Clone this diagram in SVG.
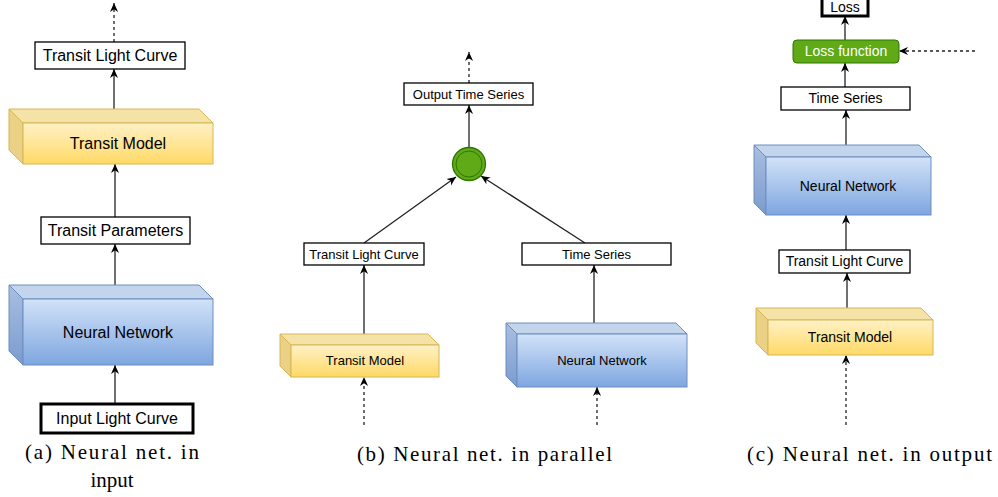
<svg xmlns="http://www.w3.org/2000/svg" width="998" height="497" viewBox="0 0 998 497">
<style>
.box{fill:#fff;stroke:#000;stroke-width:1.3}
.thick{fill:#fff;stroke:#000;stroke-width:3}
.t{font-family:"Liberation Sans",Arial,sans-serif;fill:#000;text-anchor:middle}
.ya{fill:url(#yFront);stroke:#d6b656;stroke-width:1}
.yt{fill:#f4e2a6;stroke:#d6b656;stroke-width:1}
.yl{fill:#ebd185;stroke:#d6b656;stroke-width:1}
.ba{fill:url(#bFront);stroke:#6c8ebf;stroke-width:1}
.bt{fill:#c3d4ed;stroke:#6c8ebf;stroke-width:1}
.bl{fill:url(#bLeft);stroke:#6c8ebf;stroke-width:1}
.c{stroke:#222;stroke-width:1.3;fill:none;marker-end:url(#arr)}
.d{stroke:#222;stroke-width:1.3;fill:none;stroke-dasharray:3,3;marker-end:url(#arr)}
.cap{font-family:"Liberation Serif","Times New Roman",serif;font-size:21px;fill:#000}
</style>
<defs>
<linearGradient id="yFront" x1="0" y1="0" x2="0" y2="1">
<stop offset="0" stop-color="#fff1c6"/><stop offset="1" stop-color="#ffd966"/>
</linearGradient>
<linearGradient id="bFront" x1="0" y1="0" x2="0" y2="1">
<stop offset="0" stop-color="#d2e2f8"/><stop offset="1" stop-color="#7ea6e0"/>
</linearGradient>
<linearGradient id="bLeft" x1="0" y1="0" x2="0" y2="1">
<stop offset="0" stop-color="#a9bfe0"/><stop offset="1" stop-color="#7b9bcf"/>
</linearGradient>
<marker id="arr" viewBox="0 0 10 10" refX="10" refY="5" markerWidth="9" markerHeight="9" markerUnits="userSpaceOnUse" orient="auto">
<path d="M0,0.5 L10,5 L0,9.5 L3,5 z" fill="#000"/>
</marker>
</defs>

<g id="connectors">
<!-- (a) -->
<path class="d" d="M114,42 L114,3"/>
<path class="c" d="M114,116 L114,69"/>
<path class="c" d="M115,217 L115,164"/>
<path class="c" d="M115,292 L115,244"/>
<path class="c" d="M115,403 L115,365"/>
<!-- (b) -->
<path class="d" d="M469,83 L469,52"/>
<path class="c" d="M469,147 L469,105"/>
<path class="c" d="M364,243 L456,177"/>
<path class="c" d="M585,243 L481,176"/>
<path class="c" d="M364,339 L364,265"/>
<path class="c" d="M594,328 L594,265"/>
<path class="d" d="M364,425 L364,377"/>
<path class="d" d="M597,425 L597,387"/>
<!-- (c) -->
<path class="c" d="M845,40 L845,16"/>
<path class="d" d="M975,51 L899,51"/>
<path class="c" d="M845,87 L845,63"/>
<path class="c" d="M846,151 L846,110"/>
<path class="c" d="M846,250 L846,215"/>
<path class="c" d="M847,315 L847,273"/>
<path class="d" d="M846,425 L846,355"/>
</g>

<!-- Panel (a) -->
<g id="a_tlc"><rect class="box" x="35" y="42" width="150" height="27"/><text class="t" x="110" y="61" font-size="16">Transit Light Curve</text></g>
<g id="a_tm">
<polygon class="yt" points="9,109 199,109 213,123 23,123"/>
<polygon class="yl" points="9,109 23,123 23,164 9,150"/>
<rect class="ya" x="23" y="123" width="190" height="41"/>
<text class="t" x="118" y="149" font-size="16">Transit Model</text>
</g>
<g id="a_tp"><rect class="box" x="41" y="217" width="149" height="27"/><text class="t" x="115.5" y="236" font-size="16">Transit Parameters</text></g>
<g id="a_nn">
<polygon class="bt" points="9,285 199,285 213,299 23,299"/>
<polygon class="bl" points="9,285 23,299 23,365 9,351"/>
<rect class="ba" x="23" y="299" width="190" height="66"/>
<text class="t" x="118" y="338" font-size="16">Neural Network</text>
</g>
<g id="a_ilc"><rect class="thick" x="41" y="404" width="152" height="29"/><text class="t" x="117" y="424" font-size="16">Input Light Curve</text></g>

<!-- Panel (b) -->
<g id="b_ots"><rect class="box" x="404" y="83" width="129" height="22"/><text class="t" x="468.5" y="98.5" font-size="13">Output Time Series</text></g>
<g id="b_merge">
<circle cx="469" cy="164" r="16.5" fill="#60a917" stroke="#2d7600" stroke-width="1.3"/>
<circle cx="469" cy="164" r="13" fill="none" stroke="#2d7600" stroke-width="1"/>
</g>
<g id="b_tlc"><rect class="box" x="304" y="243" width="120" height="22"/><text class="t" x="364" y="258.5" font-size="13">Transit Light Curve</text></g>
<g id="b_ts"><rect class="box" x="522" y="243" width="149" height="22"/><text class="t" x="596.5" y="258.5" font-size="13">Time Series</text></g>
<g id="b_tm">
<polygon class="yt" points="280,334 428,334 439,345 291,345"/>
<polygon class="yl" points="280,334 291,345 291,377 280,366"/>
<rect class="ya" x="291" y="345" width="148" height="32"/>
<text class="t" x="365" y="365" font-size="13">Transit Model</text>
</g>
<g id="b_nn">
<polygon class="bt" points="506,323 676,323 687,334 517,334"/>
<polygon class="bl" points="506,323 517,334 517,387 506,376"/>
<rect class="ba" x="517" y="334" width="170" height="53"/>
<text class="t" x="602" y="365" font-size="13">Neural Network</text>
</g>

<!-- Panel (c) -->
<g id="c_loss"><rect class="thick" x="822" y="-12" width="46" height="28" stroke-width="2.5"/><text class="t" x="845" y="11.5" font-size="14">Loss</text></g>
<g id="c_lossfn"><rect x="793" y="40" width="106" height="23" rx="4" fill="#60a917" stroke="#2d7600" stroke-width="1"/><text class="t" x="846" y="56" font-size="14" style="fill:#fff">Loss function</text></g>
<g id="c_ts"><rect class="box" x="781" y="87" width="129" height="23"/><text class="t" x="845.5" y="103" font-size="14">Time Series</text></g>
<g id="c_nn">
<polygon class="bt" points="754,145 919,145 931,157 766,157"/>
<polygon class="bl" points="754,145 766,157 766,215 754,203"/>
<rect class="ba" x="766" y="157" width="165" height="58"/>
<text class="t" x="848" y="191" font-size="14">Neural Network</text>
</g>
<g id="c_tlc"><rect class="box" x="779" y="250" width="131" height="23"/><text class="t" x="844.5" y="266" font-size="14">Transit Light Curve</text></g>
<g id="c_tm">
<polygon class="yt" points="756,308 921,308 933,320 768,320"/>
<polygon class="yl" points="756,308 768,320 768,355 756,343"/>
<rect class="ya" x="768" y="320" width="165" height="35"/>
<text class="t" x="850" y="342" font-size="14">Transit Model</text>
</g>

<!-- Captions -->
<text class="cap" x="25" y="459" textLength="174" lengthAdjust="spacing">(a) Neural net. in</text>
<text class="cap" x="112" y="487" text-anchor="middle">input</text>
<text class="cap" x="357" y="461" textLength="255" lengthAdjust="spacing">(b) Neural net. in parallel</text>
<text class="cap" x="747" y="461" textLength="245" lengthAdjust="spacing">(c) Neural net. in output</text>
</svg>
